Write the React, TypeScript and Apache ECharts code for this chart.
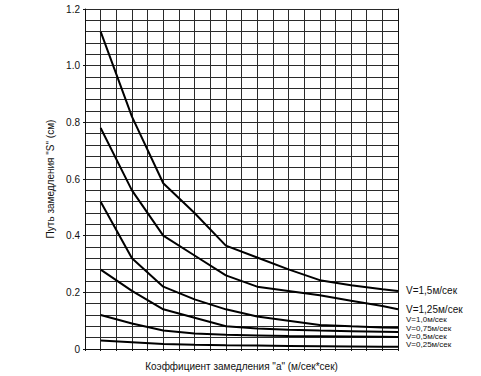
import React, { useEffect, useRef } from "react";
import * as echarts from "echarts";

// x positions (grid columns along the deceleration-coefficient axis)
const xs = [1, 3, 5, 7, 9, 11, 13, 15, 17, 19, 20];

const seriesNames = [
  "V=1,5м/сек",
  "V=1,25м/сек",
  "V=1,0м/сек",
  "V=0,75м/сек",
  "V=0,5м/сек",
  "V=0,25м/сек",
];

const v150 = [1.12, 0.82, 0.585, 0.48, 0.365, 0.323, 0.281, 0.243, 0.225, 0.211, 0.205];
const v125 = [0.78, 0.56, 0.4, 0.33, 0.26, 0.22, 0.205, 0.19, 0.17, 0.152, 0.14];
const v100 = [0.52, 0.32, 0.22, 0.175, 0.14, 0.115, 0.1, 0.085, 0.08, 0.076, 0.075];
const v075 = [0.28, 0.205, 0.14, 0.11, 0.08, 0.072, 0.068, 0.065, 0.063, 0.061, 0.06];
const v050 = [0.12, 0.09, 0.065, 0.055, 0.05, 0.048, 0.046, 0.045, 0.044, 0.043, 0.042];
const v025 = [0.03, 0.024, 0.018, 0.015, 0.013, 0.012, 0.011, 0.01, 0.009, 0.008, 0.008];

const seriesValues = [v150, v125, v100, v075, v050, v025];
const labelShift = [0, 0, -8, -4, -1, -2];
const labelSize = [10, 10, 8, 8, 8, 8];

const xTitle = "Коэффициент замедления \"a\" (м/сек*сек)";
const yTitle = "Путь замедления \"S\" (см)";

export default function App() {
  const ref = useRef<HTMLDivElement>(null);
  useEffect(() => {
    if (!ref.current) return;
    const chart = echarts.init(ref.current, null, { renderer: "svg" });
    const font = "'Liberation Sans', Arial, sans-serif";
    chart.setOption({
      animation: false,
      backgroundColor: "#ffffff",
      textStyle: { fontFamily: font },
      grid: { left: 85, top: 9, width: 313, height: 346, containLabel: false },
      xAxis: {
        type: "value",
        min: 0,
        max: 20,
        interval: 1,
        name: xTitle,
        nameLocation: "middle",
        nameGap: 12,
        nameTextStyle: { color: "#111", fontSize: 10, fontFamily: font },
        axisLine: { show: true, lineStyle: { color: "#111", width: 1 } },
        axisTick: { show: true, length: 2, lineStyle: { color: "#111" } },
        axisLabel: { show: false },
        splitLine: { show: true, lineStyle: { color: "#2a2a2a", width: 1 } },
      },
      yAxis: [
        {
          type: "value",
          min: 0,
          max: 1.2,
          interval: 0.2,
          name: yTitle,
          nameLocation: "middle",
          nameGap: 22,
          nameRotate: 90,
          nameTextStyle: { color: "#111", fontSize: 10, fontFamily: font },
          axisLine: { show: true, lineStyle: { color: "#111", width: 1 } },
          axisTick: { show: true, length: 2, lineStyle: { color: "#111" } },
          axisLabel: {
            color: "#111",
            fontSize: 10,
            fontFamily: font,
            margin: 5,
            formatter: (v: number) => (v === 0 ? "0" : v.toFixed(1)),
          },
          splitLine: { show: true, lineStyle: { color: "#2a2a2a", width: 1 } },
        },
        {
          type: "value",
          position: "right",
          min: 0,
          max: 1.2,
          interval: 0.04,
          axisLine: { show: true, lineStyle: { color: "#111", width: 1 } },
          axisTick: { show: false },
          axisLabel: { show: false },
          splitLine: { show: true, lineStyle: { color: "#2a2a2a", width: 1 } },
        },
      ],
      series: seriesValues.map((vals, i) => ({
        type: "line",
        name: seriesNames[i],
        yAxisIndex: 0,
        data: vals.map((v, j) => [xs[j], v]),
        showSymbol: false,
        symbol: "none",
        lineStyle: { color: "#000", width: 2 },
        endLabel: {
          show: true,
          formatter: seriesNames[i],
          color: "#111",
          fontSize: labelSize[i],
          fontFamily: font,
          distance: 8,
          offset: [0, labelShift[i]],
        },
      })),
    });
    return () => chart.dispose();
  }, []);
  return (
    <div
      ref={ref}
      style={{ position: "absolute", left: 0, top: 0, width: 481, height: 376 }}
    />
  );
}
